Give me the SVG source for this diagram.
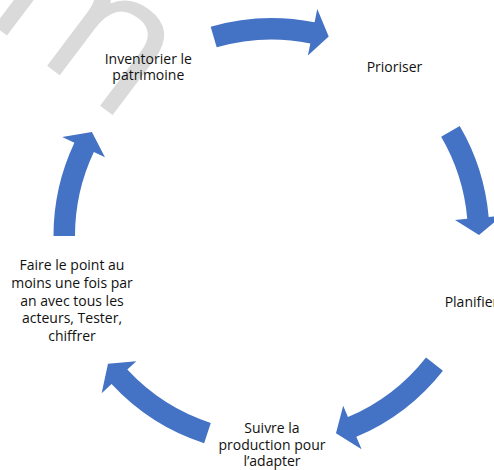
<svg xmlns="http://www.w3.org/2000/svg" width="494" height="470" viewBox="0 0 494 470">
<style>
.arrow{fill:#4472C4;stroke:none}
.lbl{font-family:"Open Sans","Liberation Sans",sans-serif;font-size:14px;fill:#111;text-anchor:middle}
.wm{font-family:"Open Sans","Liberation Sans",sans-serif;font-size:195px;fill:#dadada}
</style>
<rect width="494" height="470" fill="#fff"/>
<text class="wm" transform="translate(-19,16) rotate(37)" x="0" y="0">m</text>
<g id="connectors">
<path class="arrow" d="M216.68,47.30 L210.68,26.66 A218,218 0 0 1 314.59,22.30 L317.26,9.07 L328.70,36.54 L307.91,55.43 L310.34,43.38 A196.5,196.5 0 0 0 216.68,47.30 Z"/>
<path class="arrow" d="M441.16,136.86 L459.72,126.01 A218,218 0 0 1 488.67,217.00 L502.12,215.82 L479.00,234.91 L455.00,219.95 L467.25,218.87 A196.5,196.5 0 0 0 441.16,136.86 Z"/>
<path class="arrow" d="M426.03,357.39 L442.94,370.67 A218,218 0 0 1 356.33,436.82 L361.58,449.26 L335.97,433.23 L343.18,405.68 L347.96,417.01 A196.5,196.5 0 0 0 426.03,357.39 Z"/>
<path class="arrow" d="M210.78,422.88 L204.13,443.33 A218,218 0 0 1 111.55,384.12 L101.64,393.29 L107.99,363.75 L136.35,361.15 L127.32,369.51 A196.5,196.5 0 0 0 210.78,422.88 Z"/>
<path class="arrow" d="M75,236 L53.5,236 A218,218 0 0 1 74.41,142.84 L62.21,137.07 L91.91,132.06 L104.97,157.28 L93.85,152.02 A196.5,196.5 0 0 0 75,236 Z"/>
</g>
<g id="node-inventorier"><text class="lbl" x="148.3" y="63.5">Inventorier le</text><text class="lbl" x="148.3" y="79.5">patrimoine</text></g>
<g id="node-prioriser"><text class="lbl" x="394.5" y="71.5">Prioriser</text></g>
<g id="node-planifier"><text class="lbl" x="471.5" y="306.5">Planifier</text></g>
<g id="node-suivre"><text class="lbl" x="272" y="433">Suivre la</text><text class="lbl" x="272" y="449.5">production pour</text><text class="lbl" x="272" y="466">l’adapter</text></g>
<g id="node-faire"><text class="lbl" x="72" y="270.3">Faire le point au</text><text class="lbl" x="72" y="287.9">moins une fois par</text><text class="lbl" x="72" y="305.5">an avec tous les</text><text class="lbl" x="72" y="323.1">acteurs, Tester,</text><text class="lbl" x="72" y="340.7">chiffrer</text></g>
</svg>
